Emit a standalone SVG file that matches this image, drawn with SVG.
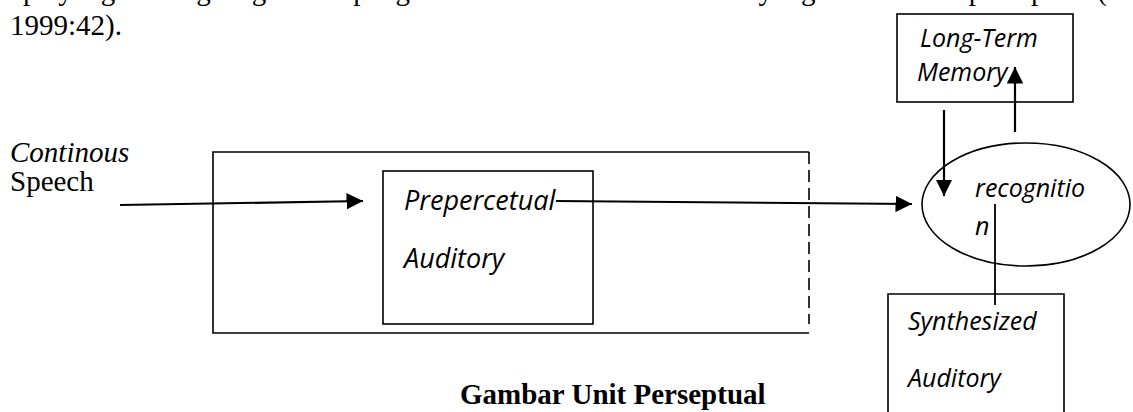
<svg xmlns="http://www.w3.org/2000/svg" width="1133" height="412" viewBox="0 0 1133 412">
<style>
.body{font-family:"Liberation Serif","Times New Roman",serif;font-size:29px;fill:#000}
.lbl{font-family:"Open Sans","Noto Sans",sans-serif;font-style:italic;font-size:25px;fill:#000}
.big{font-size:27px}
.box{fill:none;stroke:#000;stroke-width:1.6}
.con{fill:none;stroke:#000;stroke-width:2.2}
</style>
<defs>
<marker id="ah" viewBox="0 0 10 10" refX="10" refY="5" markerWidth="7.5" markerHeight="7.5" markerUnits="strokeWidth" orient="auto">
<path d="M0,0 L10,5 L0,10 Z" fill="#000"/>
</marker>
</defs>
<rect width="1133" height="412" fill="#fff"/>
<text class="body" x="10" y="0" textLength="1097" lengthAdjust="spacing">apa yang berlangsung dalam pengenalan wicara adalah sesuatu yang disebut unit perseptual (</text>
<text class="body" x="10" y="35">1999:42).</text>
<g id="input">
<text class="body" x="10" y="162" font-style="italic">Continous</text>
<text class="body" x="10" y="191">Speech</text>
</g>
<g id="outer">
<path class="box" d="M809,152 H213 V333 H809"/>
<line x1="809" y1="152" x2="809" y2="324" stroke="#000" stroke-width="1.6" stroke-dasharray="12,6"/>
</g>
<g id="prepercetual">
<rect class="box" x="383" y="171" width="210" height="153"/>
<text class="lbl big" x="404" y="210">Prepercetual</text>
<text class="lbl big" x="404" y="268">Auditory</text>
</g>
<g id="longterm">
<rect class="box" x="897" y="14" width="176" height="88"/>
<text class="lbl" x="920" y="47">Long-Term</text>
<text class="lbl" x="917" y="81">Memory</text>
</g>
<g id="recognition">
<ellipse class="box" cx="1026" cy="204.5" rx="104" ry="61.5"/>
<text class="lbl" x="975" y="197">recognitio</text>
<text class="lbl" x="975" y="235">n</text>
</g>
<g id="synthesized">
<path class="box" d="M888,412 V294 H1064 V412"/>
<text class="lbl" x="908" y="330">Synthesized</text>
<text class="lbl" x="908" y="387">Auditory</text>
</g>
<g id="connectors">
<line class="con" x1="120" y1="205" x2="363" y2="201" marker-end="url(#ah)"/>
<line class="con" x1="556" y1="201" x2="912" y2="204" marker-end="url(#ah)"/>
<line class="con" x1="944" y1="110" x2="944" y2="196" marker-end="url(#ah)"/>
<line class="con" x1="1015" y1="132" x2="1015" y2="67" marker-end="url(#ah)"/>
<line x1="995" y1="204" x2="995" y2="305" stroke="#000" stroke-width="1.8"/>
</g>
<text class="body" x="460" y="404" font-weight="bold">Gambar Unit Perseptual</text>
</svg>
